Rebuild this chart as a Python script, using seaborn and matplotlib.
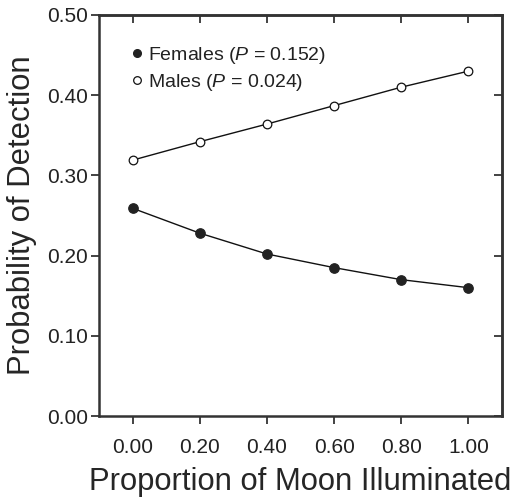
import matplotlib
matplotlib.use('Agg')
import matplotlib.pyplot as plt
import seaborn as sns
import pandas as pd
from matplotlib.lines import Line2D

# proportion of moon illuminated vs. detection probability
moon = [0.0, 0.2, 0.4, 0.6, 0.8, 1.0]
females = [0.259, 0.228, 0.202, 0.185, 0.170, 0.160]
males = [0.319, 0.342, 0.364, 0.387, 0.410, 0.430]
xticks = [0.0, 0.2, 0.4, 0.6, 0.8, 1.0]
yticks = [0.0, 0.1, 0.2, 0.3, 0.4, 0.5]

df = pd.DataFrame({'moon': moon, 'females': females, 'males': males})

sns.set_style('ticks')
plt.rcParams['font.family'] = ['Liberation Sans', 'DejaVu Sans']
plt.rcParams['mathtext.fontset'] = 'custom'
plt.rcParams['mathtext.it'] = 'Liberation Sans:italic'
plt.rcParams['mathtext.rm'] = 'Liberation Sans'
plt.rcParams['text.color'] = '#222222'
plt.rcParams['xtick.color'] = '#222222'
plt.rcParams['ytick.color'] = '#222222'

fig = plt.figure(figsize=(5.16, 5.04), dpi=100)
ax = fig.add_axes([99/516, 1-416/504, (502-99)/516, (416-15)/504])

sns.lineplot(data=df, x='moon', y='males', ax=ax, color='#111111', lw=1,
             marker='o', markersize=6.2, markerfacecolor='white',
             markeredgecolor='#111111', markeredgewidth=0.9)
sns.lineplot(data=df, x='moon', y='females', ax=ax, color='#111111', lw=1,
             marker='o', markersize=6.8, markerfacecolor='#222222',
             markeredgecolor='#222222', markeredgewidth=0.9)

ax.set_xlim(-0.1, 1.1)
ax.set_ylim(0, 0.5)
ax.set_xticks(xticks)
ax.set_yticks(yticks)
ax.set_xticklabels(['%.2f' % v for v in xticks], fontsize=15)
ax.set_yticklabels(['%.2f' % v for v in yticks], fontsize=15)
ax.tick_params(axis='x', direction='out', length=6, width=1.2, pad=10)
ax.tick_params(axis='y', direction='out', length=6, width=1.2, pad=2)
for s in ax.spines.values():
    s.set_linewidth(1.8)
    s.set_color('#333333')

top = ax.secondary_xaxis('top')
top.set_xticks(xticks)
top.tick_params(direction='in', length=6, width=1.2, labeltop=False)
right = ax.secondary_yaxis('right')
right.set_yticks(yticks)
right.tick_params(direction='in', length=6, width=1.2, labelright=False)
for sec in (top, right):
    for s in sec.spines.values():
        s.set_linewidth(1.8)
        s.set_color('#333333')

ax.set_xlabel('Proportion of Moon Illuminated', fontsize=22.3, labelpad=7)
ax.set_ylabel('Probability of Detection', fontsize=22.3, labelpad=7)

handles = [
    Line2D([], [], ls='none', marker='o', markersize=5.5, markerfacecolor='#222222',
           markeredgecolor='#222222', label='Females ($P$ = 0.152)'),
    Line2D([], [], ls='none', marker='o', markersize=5.5, markerfacecolor='white',
           markeredgecolor='#111111', markeredgewidth=0.9, label='Males ($P$ = 0.024)'),
]
ax.legend(handles=handles, loc='upper left', bbox_to_anchor=(0.06, 0.945),
          frameon=False, fontsize=14, handlelength=0.6, handletextpad=0.3,
          labelspacing=0.3, borderaxespad=0)

fig.savefig('out.png', dpi=100)
